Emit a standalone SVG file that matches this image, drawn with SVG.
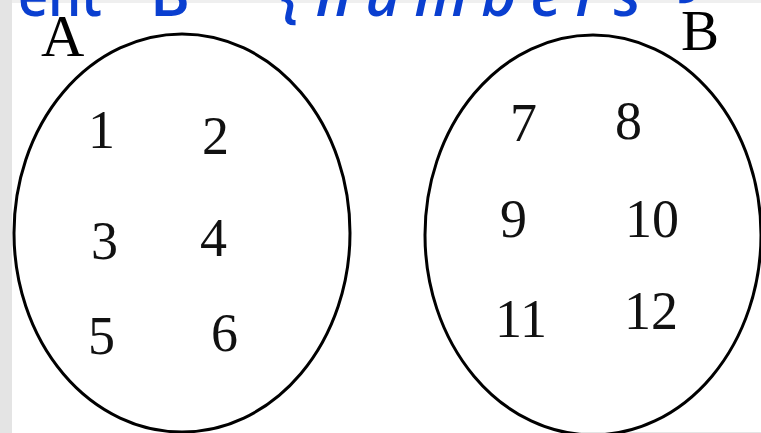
<svg xmlns="http://www.w3.org/2000/svg" width="761" height="433" viewBox="0 0 761 433">
<style>
.set{fill:none;stroke:#000;stroke-width:3}
.lbl{font-family:"Liberation Serif","Times New Roman",serif;fill:#000}
.num{font-family:"Liberation Serif","Times New Roman",serif;font-size:54px;fill:#111}
.blue{font-family:"Open Sans","Noto Sans",sans-serif;font-size:58px;font-weight:600;fill:#0a3fd0}
.bluei{font-family:"Open Sans","Noto Sans",sans-serif;font-size:60px;font-weight:600;font-style:italic;fill:#0a3fd0}
</style>
<rect width="761" height="433" fill="#ffffff"/>
<rect x="0" y="0" width="761" height="3" fill="#efefef"/>
<rect x="0" y="0" width="12" height="433" fill="#e4e4e4"/>
<rect x="580" y="432" width="181" height="1" fill="#e4e4e4"/>
<g id="heading">
<text class="blue" x="18" y="16" textLength="84" lengthAdjust="spacingAndGlyphs">ent</text>
<text class="blue" x="150" y="16" textLength="40" lengthAdjust="spacingAndGlyphs">B</text>
<text class="bluei" x="281" y="16" textLength="360" lengthAdjust="spacing">{numbers</text>
<text class="bluei" x="683" y="-6" textLength="30" lengthAdjust="spacingAndGlyphs">}</text>
</g>
<g id="set-A">
<ellipse class="set" cx="182" cy="233" rx="168" ry="199"/>
<text class="lbl" x="41" y="56" font-size="60">A</text>
<text class="num" x="88" y="148">1</text>
<text class="num" x="202" y="154">2</text>
<text class="num" x="91" y="259">3</text>
<text class="num" x="200" y="256">4</text>
<text class="num" x="88" y="354">5</text>
<text class="num" x="211" y="351">6</text>
</g>
<g id="set-B">
<ellipse class="set" cx="593" cy="235" rx="168" ry="200"/>
<text class="lbl" x="681" y="50" font-size="57">B</text>
<text class="num" x="510" y="141">7</text>
<text class="num" x="615" y="139">8</text>
<text class="num" x="500" y="237">9</text>
<text class="num" x="625" y="237">10</text>
<text class="num" x="495" y="337">11</text>
<text class="num" x="624" y="329">12</text>
</g>
</svg>
